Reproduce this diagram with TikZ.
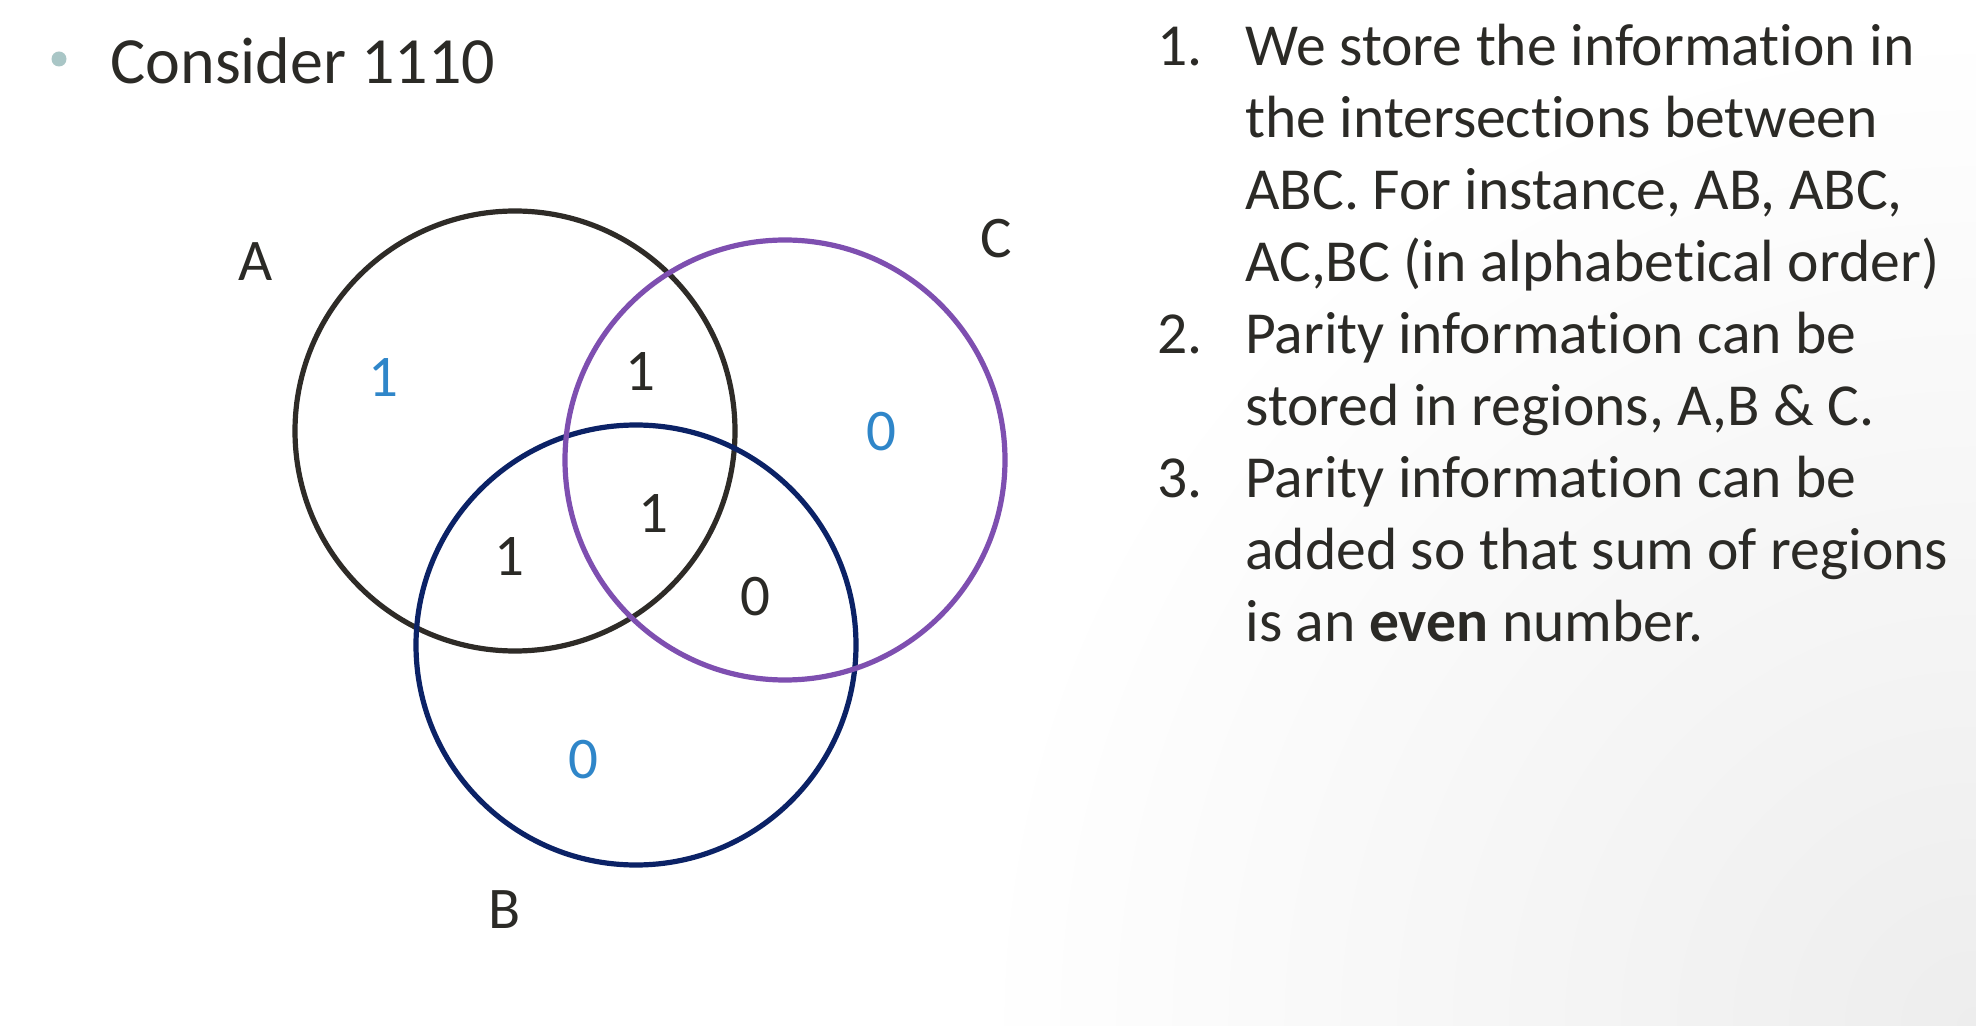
\documentclass[tikz,border=0pt]{standalone}
\usepackage{fontspec}
\setmainfont[Ligatures=NoCommon]{Carlito}
\usetikzlibrary{positioning}
\definecolor{inkdark}{HTML}{2B2A26}
\definecolor{ringA}{HTML}{2E2B27}
\definecolor{ringB}{HTML}{0B2266}
\definecolor{ringC}{HTML}{7E4FB0}
\definecolor{paritycol}{HTML}{2F86C9}
\definecolor{bulletcol}{HTML}{A9C6C6}
\tikzset{
  setring/.style={line width=2.6pt},
  digit/.style={font=\fontsize{29.5}{34}\selectfont, text=inkdark, inner sep=0pt},
  parity/.style={digit, text=paritycol},
  setname/.style={digit},
  rtext/.style={anchor=base west, inner sep=0pt, font=\fontsize{29.8}{36}\selectfont, text=inkdark},
}
\begin{document}
\begin{tikzpicture}[x=0.5pt,y=-0.5pt]
  \useasboundingbox (0,0) rectangle (1976,1026);
  \fill[white] (0,0) rectangle (1976,1026);
  \begin{scope}
    \clip (0,0) rectangle (1976,1026);
    \shade[inner color=black!7, outer color=white] (1976,1026) circle[radius=500pt];
  \end{scope}

  % heading
  \node[circle, fill=bulletcol, minimum size=7.5pt, inner sep=0pt] (dot) at (59,59) {};
  \node[rtext, font=\fontsize{33}{40}\selectfont] (title) at (110,84) {Consider 1110};

  % the three sets
  \coordinate (cA) at (515,431);
  \coordinate (cB) at (636,645);
  \coordinate (cC) at (785,460);
  \draw[setring, ringA] (cA) circle[radius=110pt];
  \draw[setring, ringB] (cB) circle[radius=110pt];
  \draw[setring, ringC] (cC) circle[radius=110pt];

  \node[setname] (labA) at (256,262) {A};
  \node[setname] (labB) at (505,910) {B};
  \node[setname] (labC) at (996,239) {C};

  % data bits
  \node[digit] (bitAC)  at (640,372) {1};
  \node[digit] (bitABC) at (653,514) {1};
  \node[digit] (bitAB)  at (509,557) {1};
  \node[digit] (bitBC)  at (755,597) {0};
  % parity bits
  \node[parity] (parA) at (383,378) {1};
  \node[parity] (parC) at (881,432) {0};
  \node[parity] (parB) at (583,760) {0};

  % notes
  \node[rtext] (num1) at (1157,66) {1.};
  \node[rtext] (num2) at (1157,{66+71.9*4}) {2.};
  \node[rtext] (num3) at (1157,{66+71.9*6}) {3.};
  \foreach \txt [count=\i] in {
    We store the information in,
    the intersections between,
    {ABC. For instance, AB, ABC,},
    {AC,BC (in alphabetical order)},
    Parity information can be,
    {stored in regions, A,B \& C.},
    Parity information can be,
    added so that sum of regions,
    is an \textbf{even} number.}
    \node[rtext] (line\i) at (1245,{66+71.9*(\i-1)}) {\txt};
\end{tikzpicture}
\end{document}
